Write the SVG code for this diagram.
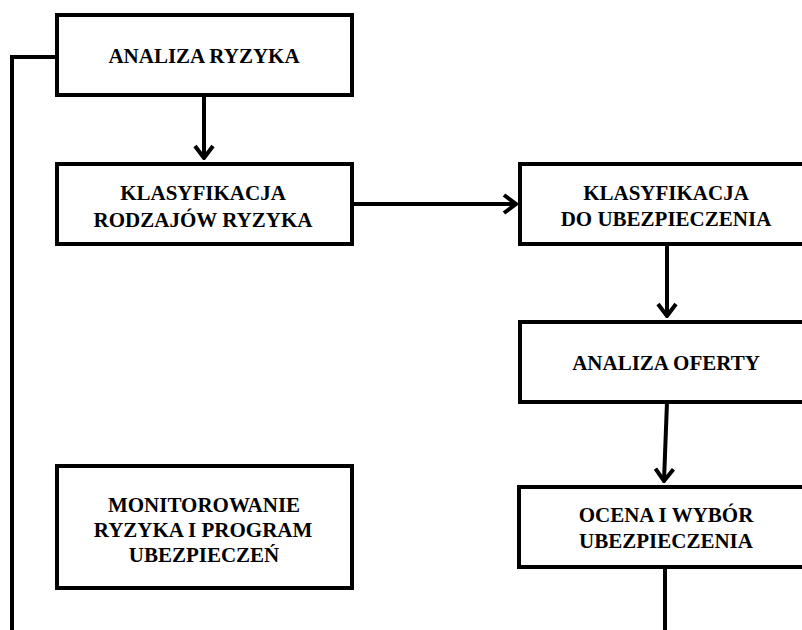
<svg xmlns="http://www.w3.org/2000/svg" width="802" height="630" viewBox="0 0 802 630">
<defs>
<style>
.box{fill:#fff;stroke:#000;stroke-width:4}
.lbl{font-family:"Liberation Serif","Times New Roman",serif;font-weight:bold;font-size:21px;text-anchor:middle;fill:#000}
.con{fill:none;stroke:#000;stroke-width:4}
</style>
<marker id="ah" markerUnits="userSpaceOnUse" viewBox="0 0 16 22" markerWidth="16" markerHeight="22" refX="14" refY="11" orient="auto">
<path d="M2,2 L14,11 L2,20" fill="none" stroke="#000" stroke-width="4"/>
</marker>
</defs>
<rect width="802" height="630" fill="#fff"/>
<g id="connectors">
<path class="con" d="M57,57 H12 V630"/>
<path class="con" d="M204,95 V158" marker-end="url(#ah)"/>
<path class="con" d="M352,204 H516" marker-end="url(#ah)"/>
<path class="con" d="M667,244 V316" marker-end="url(#ah)"/>
<path class="con" d="M667,402 L664,481" marker-end="url(#ah)"/>
<path class="con" d="M665,567 V630"/>
</g>
<g id="n1">
<rect class="box" x="57" y="15" width="295" height="80"/>
<text class="lbl" x="204" y="63">ANALIZA RYZYKA</text>
</g>
<g id="n2">
<rect class="box" x="57" y="164" width="295" height="80"/>
<text class="lbl" x="203" y="200">KLASYFIKACJA</text>
<text class="lbl" x="203" y="227">RODZAJÓW RYZYKA</text>
</g>
<g id="n3">
<rect class="box" x="520" y="164" width="300" height="80"/>
<text class="lbl" x="666" y="200">KLASYFIKACJA</text>
<text class="lbl" x="666" y="226">DO UBEZPIECZENIA</text>
</g>
<g id="n4">
<rect class="box" x="520" y="322" width="300" height="80"/>
<text class="lbl" x="666" y="370">ANALIZA OFERTY</text>
</g>
<g id="n5">
<rect class="box" x="519" y="487" width="300" height="80"/>
<text class="lbl" x="666" y="522">OCENA I WYBÓR</text>
<text class="lbl" x="666" y="548">UBEZPIECZENIA</text>
</g>
<g id="n6">
<rect class="box" x="57" y="466" width="295" height="122"/>
<text class="lbl" x="204" y="512">MONITOROWANIE</text>
<text class="lbl" x="203" y="537">RYZYKA I PROGRAM</text>
<text class="lbl" x="204" y="562">UBEZPIECZEŃ</text>
</g>
</svg>
